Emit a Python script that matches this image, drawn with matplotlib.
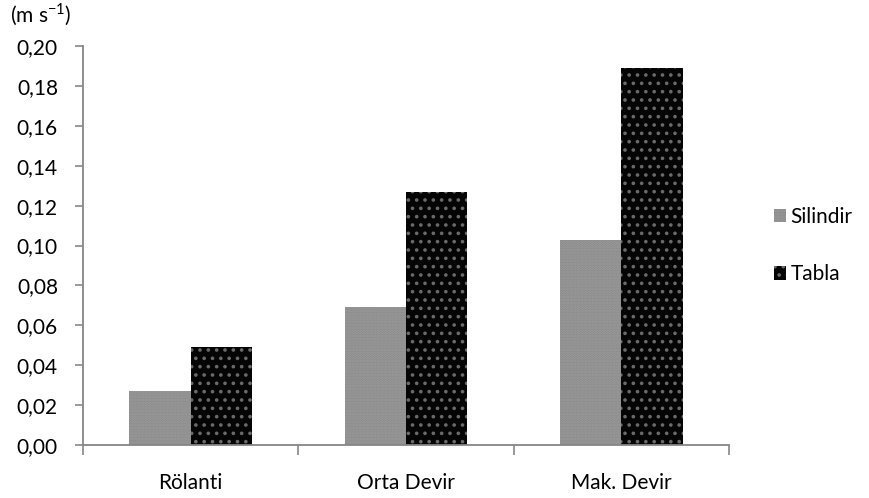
import numpy as np
import matplotlib.pyplot as plt

# values (m s-1)
categories = ['Rölanti', 'Orta Devir', 'Mak. Devir']
silindir = [0.027, 0.069, 0.103]
tabla = [0.049, 0.127, 0.189]
yticks = np.arange(0, 0.201, 0.02)

plt.rcParams['font.family'] = ['Lato', 'DejaVu Sans']
plt.rcParams['mathtext.fontset'] = 'custom'
plt.rcParams['mathtext.rm'] = 'Lato'
plt.rcParams['hatch.linewidth'] = 1.4

fig = plt.figure(figsize=(8.7, 4.98), dpi=100)
ax = fig.add_axes([0.0954, 0.1064, 0.7426, 0.8012])

x = np.arange(len(categories))
w = 0.285
ax.bar(x - w / 2, silindir, w, color='#8a8a8a', edgecolor='#9c9c9c',
       hatch='......', linewidth=0, label='Silindir')
ax.bar(x + w / 2, tabla, w, color='#050505', edgecolor='#6a6a6a',
       hatch='..', linewidth=0, label='Tabla')

ax.set_xlim(-0.5, 2.5)
ax.set_ylim(0, 0.20)
ax.set_yticks(yticks)
ax.set_yticklabels([f'{v:.2f}'.replace('.', ',') for v in yticks])

# category labels centred, tick marks at the boundaries
ax.set_xticks(x)
ax.set_xticklabels(categories)
ax.set_xticks(np.arange(-0.5, 3, 1), minor=True)
ax.tick_params(axis='x', which='major', length=0, pad=20, labelsize=15)
ax.tick_params(axis='x', which='minor', length=7, color='#868686', width=1.2)
ax.tick_params(axis='y', length=6, color='#868686', width=1.2, labelsize=15, pad=12)

for s in ['top', 'right']:
    ax.spines[s].set_visible(False)
for s in ['left', 'bottom']:
    ax.spines[s].set_color('#868686')
    ax.spines[s].set_linewidth(1.3)

fig.text(0.012, 0.955, '(m s$^{\\mathregular{-1}}$)', fontsize=15)

ax.legend(loc='center left', bbox_to_anchor=(1.04, 0.5), frameon=False,
          handlelength=0.6, handleheight=0.6, handletextpad=0.2,
          labelspacing=1.8, fontsize=15)

plt.savefig('out.png', dpi=100)
